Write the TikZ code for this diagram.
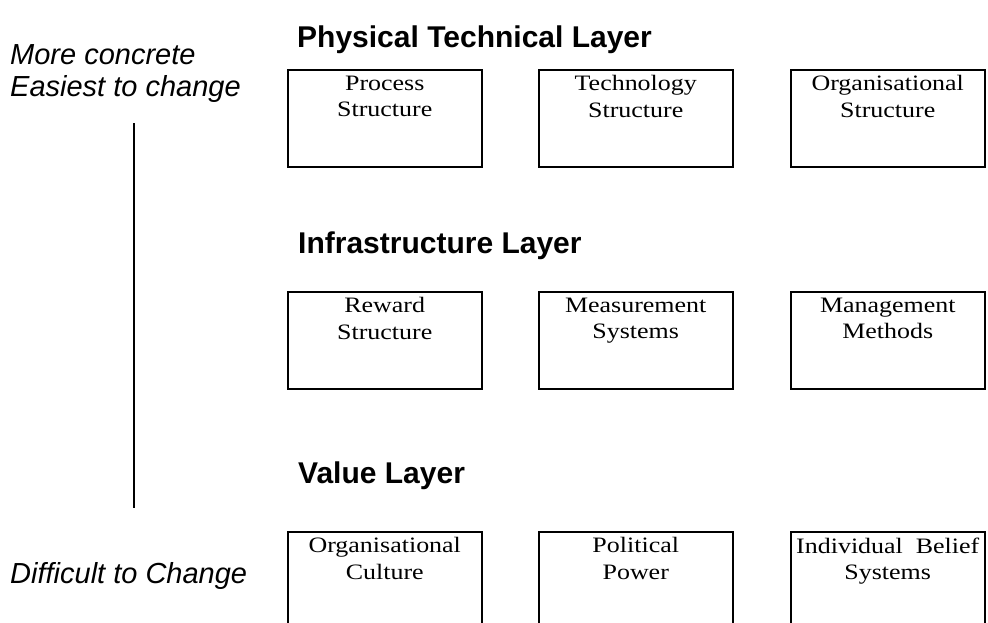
\documentclass[tikz,border=0pt]{standalone}
\usepackage{fontspec}
\setmainfont{Liberation Serif}
\newfontfamily\headfont{Liberation Sans}
\newfontfamily\boxfont{Liberation Serif}[FakeStretch=1.18]
\begin{document}
\begin{tikzpicture}[x=1pt, y=-1pt,
% common options for the layer boxes:
layerbox/.style = {draw, line width=1.5pt, anchor=north west, inner sep=0,
            minimum width=194pt, minimum height=97pt},
% text at the top of a box:
boxtext/.style = {anchor=north, align=center, inner sep=0, yshift=-6.5pt,
            font=\boxfont\fontsize{22}{26.5}\selectfont},
% layer headings and side notes:
heading/.style = {anchor=base west, inner sep=0,
            font=\headfont\bfseries\fontsize{30}{36}\selectfont},
note/.style = {anchor=base west, inner sep=0,
            font=\headfont\itshape\fontsize{29}{32}\selectfont}]
\useasboundingbox (0,0) rectangle (988,622);
\clip (0,0) rectangle (988,622);
% headings
\node[heading] (H1) at (297,47) {Physical Technical Layer};
\node[heading] (H2) at (298,253) {Infrastructure Layer};
\node[heading] (H3) at (298,483) {Value Layer};
% side notes
\node[note] (N1) at (10,64) {More concrete};
\node[note] (N2) at (10,96) {Easiest to change};
\node[note] (N3) at (10,583) {Difficult to Change};
% physical technical layer
\node[layerbox, label={[boxtext]north:Process\\Structure}] (A1) at (287,69) {};
\node[layerbox, label={[boxtext]north:Technology\\Structure}] (A2) at (538,69) {};
\node[layerbox, label={[boxtext]north:Organisational\\Structure}] (A3) at (790,69) {};
% infrastructure layer
\node[layerbox, label={[boxtext]north:Reward\\Structure}] (B1) at (287,291) {};
\node[layerbox, label={[boxtext]north:Measurement\\Systems}] (B2) at (538,291) {};
\node[layerbox, label={[boxtext]north:Management\\Methods}] (B3) at (790,291) {};
% value layer
\node[layerbox, label={[boxtext]north:Organisational\\Culture}] (C1) at (287,531) {};
\node[layerbox, label={[boxtext]north:Political\\Power}] (C2) at (538,531) {};
\node[layerbox, label={[boxtext]north:Individual~~Belief\\Systems}] (C3) at (790,531) {};
% scale line
\coordinate (top) at (134,123);
\coordinate (bot) at (134,508);
\draw[line width=1.5pt] (top) -- (bot);
\end{tikzpicture}
\end{document}
